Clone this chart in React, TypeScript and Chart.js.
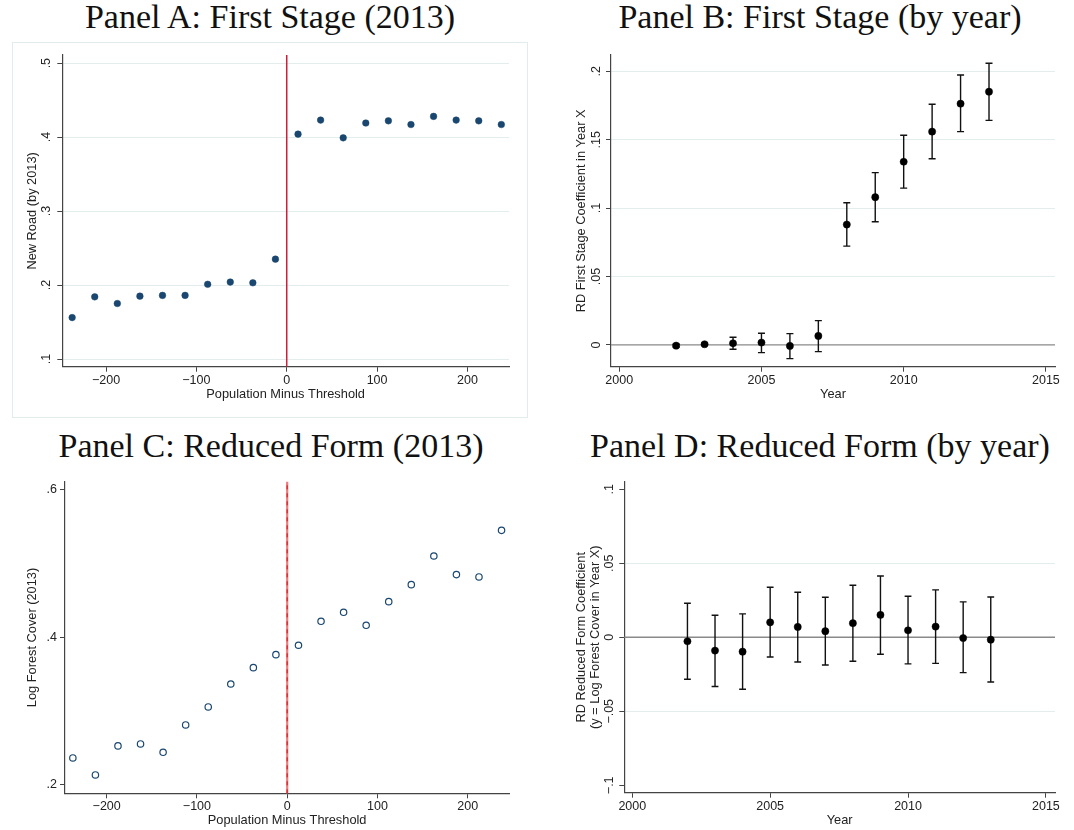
import React, { useEffect, useRef } from "react";
import { Chart, registerables } from "chart.js";

Chart.register(...registerables);

// ---------- data ----------
const popBins = [-237.5, -212.5, -187.5, -162.5, -137.5, -112.5, -87.5, -62.5, -37.5, -12.5, 12.5, 37.5, 62.5, 87.5, 112.5, 137.5, 162.5, 187.5, 212.5, 237.5];
const newRoad2013 = [0.156, 0.184, 0.175, 0.185, 0.186, 0.186, 0.201, 0.204, 0.203, 0.235, 0.404, 0.423, 0.399, 0.419, 0.422, 0.417, 0.428, 0.423, 0.422, 0.417];
const logForest2013 = [0.2365, 0.2135, 0.2528, 0.2555, 0.2442, 0.2812, 0.3055, 0.3366, 0.3587, 0.3763, 0.389, 0.4214, 0.4336, 0.416, 0.448, 0.471, 0.5098, 0.4846, 0.4814, 0.5445];

const years = [2002, 2003, 2004, 2005, 2006, 2007, 2008, 2009, 2010, 2011, 2012, 2013];
const fsCoef = [-0.0005, 0.0005, 0.0012, 0.0017, -0.0007, 0.0066, 0.088, 0.108, 0.1339, 0.1559, 0.1763, 0.1851];
const fsLo = [-0.0015, -0.0003, -0.0032, -0.0056, -0.01, -0.0049, 0.0722, 0.09, 0.1146, 0.1361, 0.1559, 0.1641];
const fsHi = [0.0005, 0.0013, 0.0056, 0.0085, 0.0083, 0.0178, 0.1039, 0.1259, 0.1532, 0.1759, 0.1973, 0.2059];
const rfCoef = [-0.0027, -0.009, -0.0097, 0.0101, 0.007, 0.0041, 0.0095, 0.0151, 0.0047, 0.0072, -0.0005, -0.0016];
const rfLo = [-0.0284, -0.0333, -0.0351, -0.0133, -0.0167, -0.0187, -0.0162, -0.0115, -0.018, -0.0176, -0.0239, -0.0302];
const rfHi = [0.023, 0.0149, 0.0158, 0.0338, 0.0304, 0.027, 0.0351, 0.0414, 0.0277, 0.032, 0.0239, 0.0272];

const popTicks = [-200, -100, 0, 100, 200];
const yearTicks = [2000, 2005, 2010, 2015];
const ticksA = [0.1, 0.2, 0.3, 0.4, 0.5];
const ticksB = [0, 0.05, 0.1, 0.15, 0.2];
const ticksC = [0.2, 0.4, 0.6];
const ticksD = [-0.1, -0.05, 0, 0.05, 0.1];

const titles = [
  "Panel A: First Stage (2013)",
  "Panel B: First Stage (by year)",
  "Panel C: Reduced Form (2013)",
  "Panel D: Reduced Form (by year)",
];

// ---------- styling ----------
const SANS = "'Liberation Sans', Arial, sans-serif";
const SERIF = "'Liberation Serif', 'Times New Roman', serif";
const NAVY = "#1a476f";
const AXIS = "#444";
const TXT = "#222";
const GRID = "#e3eded";
const FS = 12.8;
const TFS = 12.5;

const fmt = (v: number) => {
  if (Math.abs(v) < 1e-9) return "0";
  const a = Math.abs(v);
  let s = Number.isInteger(a) ? String(a) : String(+a.toFixed(4)).replace(/^0\./, ".");
  return (v < 0 ? "\u2212" : "") + s;
};

const setTicks = (vals: number[]) => (s: any) => {
  s.ticks = vals.map((v) => ({ value: v }));
};

const refLine = (axis: "x" | "y", value: number, color: string, width: number, dashOverlay?: string) => ({
  id: "refLine_" + axis,
  beforeDatasetsDraw(chart: any) {
    const { ctx, chartArea: ca, scales } = chart;
    ctx.save();
    const draw = (col: string, w: number, dash: number[]) => {
      ctx.strokeStyle = col;
      ctx.lineWidth = w;
      ctx.setLineDash(dash);
      ctx.beginPath();
      if (axis === "x") {
        const px = scales.x.getPixelForValue(value);
        ctx.moveTo(px, ca.bottom);
        ctx.lineTo(px, ca.top);
      } else {
        const py = scales.y.getPixelForValue(value);
        ctx.moveTo(ca.left, py);
        ctx.lineTo(ca.right, py);
      }
      ctx.stroke();
    };
    draw(color, width, []);
    if (dashOverlay) draw(dashOverlay, width * 0.6, [4, 4]);
    ctx.restore();
  },
});

const errorBars = (lo: number[], hi: number[], cap: number) => ({
  id: "errorBars",
  beforeDatasetsDraw(chart: any) {
    const { ctx, scales } = chart;
    ctx.save();
    ctx.strokeStyle = "#111";
    ctx.lineWidth = 1.4;
    years.forEach((yr, i) => {
      const px = scales.x.getPixelForValue(yr);
      const y1 = scales.y.getPixelForValue(lo[i]);
      const y2 = scales.y.getPixelForValue(hi[i]);
      ctx.beginPath();
      ctx.moveTo(px, y1);
      ctx.lineTo(px, y2);
      ctx.moveTo(px - cap, y1);
      ctx.lineTo(px + cap, y1);
      ctx.moveTo(px - cap, y2);
      ctx.lineTo(px + cap, y2);
      ctx.stroke();
    });
    ctx.restore();
  },
});

const rotatedYTicks = (offset: number) => ({
  id: "rotYTicks",
  afterDraw(chart: any) {
    const { ctx } = chart;
    const s = chart.scales.y;
    ctx.save();
    ctx.fillStyle = TXT;
    ctx.font = `${TFS}px ${SANS}`;
    ctx.textAlign = "center";
    ctx.textBaseline = "middle";
    s.ticks.forEach((t: any) => {
      const py = s.getPixelForValue(t.value);
      ctx.save();
      ctx.translate(s.right - offset, py);
      ctx.rotate(-Math.PI / 2);
      ctx.fillText(fmt(t.value), 0, 0);
      ctx.restore();
    });
    ctx.restore();
  },
});

const xScale = (min: number, max: number, ticks: number[], height: number, title: string, titlePadBottom: number) => ({
  type: "linear",
  position: "bottom",
  min,
  max,
  afterBuildTicks: setTicks(ticks),
  afterFit: (s: any) => {
    s.height = height;
  },
  ticks: {
    autoSkip: false,
    maxRotation: 0,
    padding: 1,
    color: TXT,
    font: { family: SANS, size: TFS },
    callback: (v: any) => fmt(Number(v)),
  },
  grid: { display: true, drawOnChartArea: false, drawTicks: true, tickLength: 5, tickColor: AXIS, tickWidth: 1 },
  border: { display: true, color: AXIS, width: 1.2 },
  title: { display: true, text: title, color: TXT, font: { family: SANS, size: FS }, padding: { top: 0, bottom: titlePadBottom } },
});

const yScale = (
  min: number,
  max: number,
  ticks: number[],
  width: number,
  title: string | string[],
  titlePadTop: number,
  opts: { showTicks: boolean; gridColor: any; lineHeight?: number }
) => ({
  type: "linear",
  position: "left",
  min,
  max,
  afterBuildTicks: setTicks(ticks),
  afterFit: (s: any) => {
    s.width = width;
  },
  ticks: {
    display: opts.showTicks,
    autoSkip: false,
    padding: 3,
    color: TXT,
    font: { family: SANS, size: TFS },
    callback: (v: any) => fmt(Number(v)),
  },
  grid: {
    display: true,
    drawOnChartArea: true,
    color: opts.gridColor,
    lineWidth: 1,
    drawTicks: true,
    tickLength: 5,
    tickColor: AXIS,
    tickWidth: 1,
  },
  border: { display: true, color: AXIS, width: 1.2 },
  title: {
    display: true,
    text: title,
    color: TXT,
    font: { family: SANS, size: FS, lineHeight: opts.lineHeight ?? 1.2 },
    padding: { top: titlePadTop, bottom: 0 },
  },
});

const baseOptions = (padding: any, scales: any) => ({
  responsive: false,
  maintainAspectRatio: false,
  animation: false,
  events: [],
  layout: { padding },
  plugins: { legend: { display: false }, tooltip: { enabled: false }, title: { display: false } },
  scales,
});

// ---------- configs ----------
const configA = () => ({
  type: "scatter",
  data: {
    datasets: [
      {
        data: popBins.map((x, i) => ({ x, y: newRoad2013[i] })),
        pointRadius: 3.3,
        pointBackgroundColor: NAVY,
        pointBorderColor: NAVY,
        pointBorderWidth: 0.5,
      },
    ],
  },
  options: baseOptions(
    { left: 0, top: 13, right: 19, bottom: 0 },
    {
      x: xScale(-248.4, 246, popTicks, 51.3, "Population Minus Threshold", 16.3),
      y: yScale(0.0896, 0.511, ticksA, 50.3, "New Road (by 2013)", 12.6, { showTicks: false, gridColor: GRID }),
    }
  ),
  plugins: [refLine("x", 0, "#cc1f3c", 1.5), rotatedYTicks(15.6)],
});

const configB = () => ({
  type: "scatter",
  data: {
    datasets: [
      {
        data: years.map((x, i) => ({ x, y: fsCoef[i] })),
        pointRadius: 3.6,
        pointBackgroundColor: "#000",
        pointBorderColor: "#000",
        pointBorderWidth: 0.5,
      },
    ],
  },
  options: baseOptions(
    { left: 0, top: 13, right: 19, bottom: 0 },
    {
      x: xScale(1999.71, 2015.32, yearTicks, 51.3, "Year", 16.3),
      y: yScale(-0.0159, 0.2119, ticksB, 74, "RD First Stage Coefficient in Year X", 37, {
        showTicks: false,
        gridColor: (c: any) => (c.tick && Math.abs(c.tick.value) < 1e-9 ? "rgba(0,0,0,0)" : GRID),
      }),
    }
  ),
  plugins: [refLine("y", 0, "#8a8a8a", 1.3), errorBars(fsLo, fsHi, 3.5), rotatedYTicks(14.3)],
});

const configC = () => ({
  type: "scatter",
  data: {
    datasets: [
      {
        data: popBins.map((x, i) => ({ x, y: logForest2013[i] })),
        pointRadius: 3.2,
        pointBackgroundColor: "rgba(255,255,255,0)",
        pointBorderColor: NAVY,
        pointBorderWidth: 1.2,
      },
    ],
  },
  options: baseOptions(
    { left: 0, top: 11.7, right: 18.7, bottom: 0 },
    {
      x: xScale(-246.2, 246.1, popTicks, 36.7, "Population Minus Threshold", 1.6),
      y: yScale(0.1887, 0.6103, ticksC, 53, "Log Forest Cover (2013)", 12.6, {
        showTicks: true,
        gridColor: "rgba(0,0,0,0)",
      }),
    }
  ),
  plugins: [refLine("x", 0, "#f07a7a", 2.2, "#d42a2a")],
});

const configD = () => ({
  type: "scatter",
  data: {
    datasets: [
      {
        data: years.map((x, i) => ({ x, y: rfCoef[i] })),
        pointRadius: 3.6,
        pointBackgroundColor: "#000",
        pointBorderColor: "#000",
        pointBorderWidth: 0.5,
      },
    ],
  },
  options: baseOptions(
    { left: 0, top: 11.7, right: 19, bottom: 0 },
    {
      x: xScale(1999.71, 2015.33, yearTicks, 37.3, "Year", 2.3),
      y: yScale(
        -0.105,
        0.1051,
        ticksD,
        87.3,
        ["RD Reduced Form Coefficient", "(y = Log Forest Cover in Year X)"],
        38,
        {
          showTicks: false,
          lineHeight: 1.05,
          gridColor: (c: any) => (c.tick && Math.abs(Math.abs(c.tick.value) - 0.05) < 1e-9 ? GRID : "rgba(0,0,0,0)"),
        }
      ),
    }
  ),
  plugins: [refLine("y", 0, "#8a8a8a", 1.3), errorBars(rfLo, rfHi, 3.4), rotatedYTicks(14.3)],
});

// ---------- components ----------
function ChartCanvas({ make, left, top, w, h }: { make: () => any; left: number; top: number; w: number; h: number }) {
  const ref = useRef<HTMLCanvasElement | null>(null);
  useEffect(() => {
    if (!ref.current) return;
    const chart = new Chart(ref.current, make() as any);
    return () => chart.destroy();
  }, [make]);
  return (
    <canvas
      ref={ref}
      width={w}
      height={h}
      style={{ position: "absolute", left, top, width: w, height: h, display: "block" }}
    />
  );
}

function PanelTitle({ text, cx, top }: { text: string; cx: number; top: number }) {
  return (
    <div
      style={{
        position: "absolute",
        left: cx - 300,
        top,
        width: 600,
        textAlign: "center",
        fontFamily: SERIF,
        fontSize: 34,
        lineHeight: "34px",
        color: "#111",
        whiteSpace: "nowrap",
      }}
    >
      {text}
    </div>
  );
}

export default function App() {
  return (
    <div style={{ position: "absolute", left: 0, top: 0, width: 1074, height: 830, background: "#fff", overflow: "hidden" }}>
      <PanelTitle text={titles[0]} cx={270} top={0} />
      <PanelTitle text={titles[1]} cx={820} top={0} />
      <PanelTitle text={titles[2]} cx={271} top={429} />
      <PanelTitle text={titles[3]} cx={820} top={429} />
      <div
        style={{
          position: "absolute",
          left: 12,
          top: 42,
          width: 516,
          height: 376,
          border: "1px solid #e2ecec",
          boxSizing: "border-box",
        }}
      />
      <ChartCanvas make={configA} left={12} top={42} w={516} h={376} />
      <ChartCanvas make={configB} left={537} top={42} w={537} h={376} />
      <ChartCanvas make={configC} left={12} top={470} w={516} h={360} />
      <ChartCanvas make={configD} left={537} top={470} w={537} h={360} />
    </div>
  );
}
